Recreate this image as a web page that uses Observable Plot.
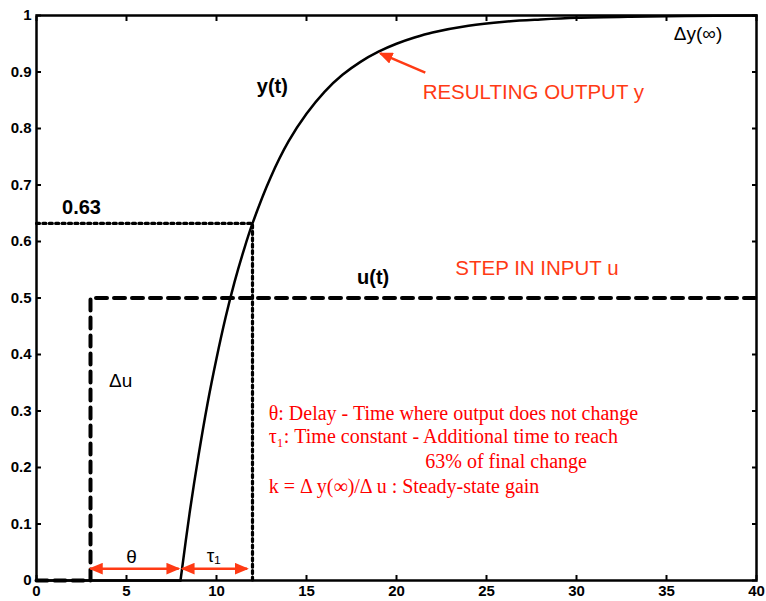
<!DOCTYPE html>
<html><head><meta charset="utf-8">
<script src="https://cdn.jsdelivr.net/npm/d3@7"></script>
<script src="https://cdn.jsdelivr.net/npm/@observablehq/plot@0.6"></script>
<style>body{margin:0;background:#fff}</style>
</head><body><div id="chart"></div>
<script>
// Output y(t): flat part before the delay, then the rise
const flatT = [0, 8];
const flatY = [0, 0];
const riseT = [8, 8.5, 9, 9.5, 10, 10.5, 11, 11.5, 12, 13, 14, 15, 16, 17, 18, 19, 20, 21, 22, 24, 26, 28, 30, 33, 36, 40];
const riseY = [0, 0.118, 0.221, 0.313, 0.393, 0.465, 0.528, 0.583, 0.632, 0.713, 0.777, 0.826, 0.865, 0.895, 0.918, 0.936, 0.950, 0.961, 0.970, 0.982, 0.989, 0.993, 0.996, 0.998, 0.999, 1.0];
// Input step u(t)
const inT = [0, 3, 3, 40];
const inU = [0, 0, 0.5, 0.5];
// 63% reference guide
const refT = [0, 12, 12];
const refY = [0.632, 0.632, 0];
// Axis ticks
const xTicks = [0, 5, 10, 15, 20, 25, 30, 35, 40];
const xTickLabels = ["0", "5", "10", "15", "20", "25", "30", "35", "40"];
const yTicks = [0, 0.1, 0.2, 0.3, 0.4, 0.5, 0.6, 0.7, 0.8, 0.9, 1];
const yTickLabels = ["0", "0.1", "0.2", "0.3", "0.4", "0.5", "0.6", "0.7", "0.8", "0.9", "1"];
// Black annotations
const boldLabels = ["y(t)", "u(t)", "0.63"];
const boldLabelX = [13.1, 18.7, 2.5];
const boldLabelY = [0.874, 0.536, 0.66];
const plainLabels = ["Δu", "Δy(∞)", "θ", "τ₁"];
const plainLabelX = [4.67, 36.75, 5.28, 9.85];
const plainLabelY = [0.354, 0.968, 0.041, 0.044];
// Orange annotations
const orangeLabels = ["RESULTING OUTPUT y", "STEP IN INPUT u"];
const orangeLabelX = [27.6, 27.8];
const orangeLabelY = [0.864, 0.552];
// Red notes block
const notes = ["θ: Delay - Time where output does not change", "τ₁: Time constant - Additional time to reach", "63% of final change", "k = Δ y(∞)/Δ u : Steady-state gain"];
const noteX = [12.9, 12.9, 21.6, 12.9];
const noteY = [0.296, 0.254, 0.211, 0.166];
// Arrows
const arrowX1 = [21.6, 3.0, 8.1];
const arrowY1 = [0.899, 0.021, 0.021];
const arrowX2 = [19.1, 7.9, 11.7];
const arrowY2 = [0.933, 0.021, 0.021];
const arrowBoth = [false, true, true];

const flatData = flatT.map((t, i) => ({t, y: flatY[i]}));
const riseData = riseT.map((t, i) => ({t, y: riseY[i]}));
const inData = inT.map((t, i) => ({t, y: inU[i]}));
const refData = refT.map((t, i) => ({t, y: refY[i]}));
const bl = boldLabels.map((s, i) => ({s, x: boldLabelX[i], y: boldLabelY[i]}));
const pl = plainLabels.map((s, i) => ({s, x: plainLabelX[i], y: plainLabelY[i]}));
const ol = orangeLabels.map((s, i) => ({s, x: orangeLabelX[i], y: orangeLabelY[i]}));
const nl = notes.map((s, i) => ({s, x: noteX[i], y: noteY[i]}));
const arr = arrowX1.map((x1, i) => ({x1, y1: arrowY1[i], x2: arrowX2[i], y2: arrowY2[i], both: arrowBoth[i]}));
const arrSingle = arr.filter(a => !a.both);
const arrDouble = arr.filter(a => a.both);

const ORANGE = "#ff3a14";

function triMarker(color, context) {
  const ns = "http://www.w3.org/2000/svg";
  const doc = (context && context.document) || document;
  const m = doc.createElementNS(ns, "marker");
  m.setAttribute("viewBox", "-6 -5 12 10");
  m.setAttribute("markerWidth", 5.6);
  m.setAttribute("markerHeight", 4.7);
  m.setAttribute("refX", 4.5);
  m.setAttribute("refY", 0);
  m.setAttribute("orient", "auto-start-reverse");
  const p = doc.createElementNS(ns, "path");
  p.setAttribute("d", "M-6,-5L6,0L-6,5Z");
  p.setAttribute("fill", color);
  p.setAttribute("stroke", "none");
  m.appendChild(p);
  return m;
}

const chart = Plot.plot({
  width: 766,
  height: 601,
  marginLeft: 36,
  marginRight: 10,
  marginTop: 15,
  marginBottom: 21,
  style: {fontFamily: "'Liberation Sans', Arial, Helvetica, sans-serif", background: "#fff"},
  x: {domain: [0, 40]},
  y: {domain: [0, 1]},
  marks: [
    Plot.line(refData, {x: "t", y: "y", stroke: "black", strokeWidth: 3.2, strokeDasharray: "3,3.4"}),
    Plot.line(inData, {x: "t", y: "y", stroke: "black", strokeWidth: 4, strokeDasharray: "11,7"}),
    Plot.line(flatData, {x: "t", y: "y", stroke: "black", strokeWidth: 2.5}),
    Plot.line(riseData, {x: "t", y: "y", stroke: "black", strokeWidth: 2.5, curve: "catmull-rom"}),
    Plot.axisX({ticks: xTicks, tickFormat: (d) => xTickLabels[xTicks.indexOf(d)], tickSize: 0, tickPadding: 5, fontSize: 15, fontWeight: "bold", label: null}),
    Plot.axisY({ticks: yTicks, tickFormat: (d) => yTickLabels[yTicks.indexOf(d)], tickSize: 0, tickPadding: 5, fontSize: 15, fontWeight: "bold", label: null}),
    Plot.axisX({ticks: xTicks, anchor: "bottom", tickSize: -5, strokeWidth: 2, fill: "none", label: null}),
    Plot.axisX({ticks: xTicks, anchor: "top", tickSize: -5, strokeWidth: 2, fill: "none", label: null}),
    Plot.axisY({ticks: yTicks, anchor: "left", tickSize: -5, strokeWidth: 2, fill: "none", label: null}),
    Plot.axisY({ticks: yTicks, anchor: "right", tickSize: -5, strokeWidth: 2, fill: "none", label: null}),
    Plot.frame({stroke: "black", strokeWidth: 2.5}),
    Plot.text(bl, {x: "x", y: "y", text: "s", fontSize: 20, fontWeight: "bold", fill: "black"}),
    Plot.text(pl, {x: "x", y: "y", text: "s", fontSize: 19, fill: "black"}),
    Plot.text(ol, {x: "x", y: "y", text: "s", fontSize: 20.5, fill: ORANGE}),
    Plot.text(nl, {x: "x", y: "y", text: "s", fontSize: 20, fill: "#ff0000", textAnchor: "start", fontFamily: "'Liberation Serif', 'Times New Roman', serif"}),
    Plot.link(arrSingle, {x1: "x1", y1: "y1", x2: "x2", y2: "y2", stroke: ORANGE, strokeWidth: 2.5, markerEnd: triMarker}),
    Plot.link(arrDouble, {x1: "x1", y1: "y1", x2: "x2", y2: "y2", stroke: ORANGE, strokeWidth: 2.5, markerStart: triMarker, markerEnd: triMarker})
  ]
});
document.getElementById("chart").appendChild(chart);
</script>
</body></html>
